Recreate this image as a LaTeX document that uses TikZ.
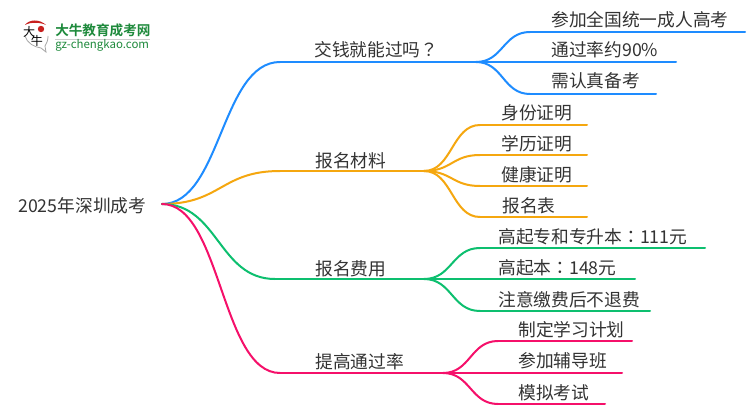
\documentclass[tikz,border=0pt]{standalone}
\usepackage{fontspec}
\setmainfont{Noto Sans CJK SC}
\newfontfamily\logofont{Noto Sans CJK SC Bold}
\newfontfamily\puncfont{Noto Sans CJK TC}
\definecolor{cblue}{HTML}{1E8CFF}
\definecolor{corange}{HTML}{F5A70F}
\definecolor{cgreen}{HTML}{0DBF6F}
\definecolor{cpink}{HTML}{F5106A}
\definecolor{ctext}{HTML}{333333}
\definecolor{logogreen}{HTML}{1E8A3C}
\definecolor{logored}{HTML}{C8201E}
\tikzset{
 x=0.75pt,y=-0.75pt,
 lab/.style={inner sep=0pt,text=ctext,font=\fontsize{13.3pt}{15pt}\selectfont,anchor=base west},
 wire/.style={line width=1.5pt,line cap=round},
}
\newcommand{\branch}[3]{\draw[wire,#1] (#2) .. controls ($(#2)!0.5!(#2-|#3)$) and ($(#3)!0.5!(#3-|#2)$) .. (#3);}
\usetikzlibrary{calc}
\begin{document}
\begin{tikzpicture}
\useasboundingbox (0,0) rectangle (750,410);
\fill[white] (0,0) rectangle (750,410);
% logo
\fill[logored] (25,25) .. controls (29,19) and (40,19) .. (46,25) .. controls (40,22) and (30,22) .. (25,25);
\fill[logored] (41,29) circle (3.2);
\draw[black!35,line width=0.6pt] (25,36) .. controls (27,43) and (34,47) .. (41,48) -- (46,52) -- (45,46) .. controls (47,43) and (48,40) .. (48,36);
\node[inner sep=0pt,font=\fontsize{9pt}{9pt}\selectfont,text=black] (logoda) at (29,32) {大};
\node[inner sep=0pt,font=\fontsize{9pt}{9pt}\selectfont,text=black] (logoniu) at (37,41) {牛};
\node[inner sep=0pt,anchor=west,text=logogreen,font=\logofont\fontsize{10.2pt}{12pt}\selectfont] (logot) at (55,30) {大牛教育成考网};
\draw[black!20,line width=0.6pt] (55,39.5) -- (150,39.5);
\node[inner sep=0pt,anchor=west,text=logogreen,font=\fontsize{8.6pt}{9pt}\selectfont] (logou) at (55,45) {gz-chengkao.com};
% anchors
\coordinate (r) at (162,204);
\coordinate (a) at (280,62);  \coordinate (ae) at (476,62);
\coordinate (b) at (280,171); \coordinate (be) at (424,171);
\coordinate (c) at (275,279); \coordinate (ce) at (424,279);
\coordinate (d) at (280,373); \coordinate (de) at (443,373);
\coordinate (a1) at (530,32); \coordinate (a1e) at (745,32);
\coordinate (a2) at (530,62); \coordinate (a2e) at (676,62);
\coordinate (a3) at (530,94); \coordinate (a3e) at (656,94);
\coordinate (b1) at (480,125); \coordinate (b1e) at (587,125);
\coordinate (b2) at (480,155); \coordinate (b2e) at (587,155);
\coordinate (b3) at (480,186); \coordinate (b3e) at (587,186);
\coordinate (b4) at (480,217); \coordinate (b4e) at (587,217);
\coordinate (c1) at (480,248); \coordinate (c1e) at (705,248);
\coordinate (c2) at (480,279); \coordinate (c2e) at (635,279);
\coordinate (c3) at (480,311); \coordinate (c3e) at (650,311);
\coordinate (d1) at (498,341); \coordinate (d1e) at (632,341);
\coordinate (d2) at (498,373); \coordinate (d2e) at (622,373);
\coordinate (d3) at (498,404); \coordinate (d3e) at (605,404);
% connectors
\branch{cblue}{r}{a} \draw[wire,cblue] (a) -- (ae);
\branch{cblue}{ae}{a1} \draw[wire,cblue] (a1) -- (a1e);
\draw[wire,cblue] (ae) -- (a2e);
\branch{cblue}{ae}{a3} \draw[wire,cblue] (a3) -- (a3e);
\branch{corange}{r}{b} \draw[wire,corange] (b) -- (be);
\foreach \k in {b1,b2,b3,b4}{\branch{corange}{be}{\k} \draw[wire,corange] (\k) -- (\k e);}
\branch{cgreen}{r}{c} \draw[wire,cgreen] (c) -- (ce);
\branch{cgreen}{ce}{c1} \draw[wire,cgreen] (c1) -- (c1e);
\draw[wire,cgreen] (ce) -- (c2e);
\branch{cgreen}{ce}{c3} \draw[wire,cgreen] (c3) -- (c3e);
\branch{cpink}{r}{d} \draw[wire,cpink] (d) -- (de);
\branch{cpink}{de}{d1} \draw[wire,cpink] (d1) -- (d1e);
\draw[wire,cpink] (de) -- (d2e);
\branch{cpink}{de}{d3} \draw[wire,cpink] (d3) -- (d3e);
% labels
\node[lab] (tr) at (18,212) {2025年深圳成考};
\node[lab] (ta) at (314,57) {交钱就能过吗{\puncfont ？}};
\node[lab] (tb) at (315,167) {报名材料};
\node[lab] (tc) at (315,275) {报名费用};
\node[lab] (td) at (315,368) {提高通过率};
\node[lab] (ta1) at (551,27) {参加全国统一成人高考};
\node[lab] (ta2) at (551,57) {通过率约90\%};
\node[lab] (ta3) at (551,88) {需认真备考};
\node[lab] (tb1) at (501,120) {身份证明};
\node[lab] (tb2) at (501,150) {学历证明};
\node[lab] (tb3) at (501,181) {健康证明};
\node[lab] (tb4) at (502,212) {报名表};
\node[lab] (tc1) at (498,243) {高起专和专升本{\puncfont ：}111元};
\node[lab] (tc2) at (498,274) {高起本{\puncfont ：}148元};
\node[lab] (tc3) at (498,306) {注意缴费后不退费};
\node[lab] (td1) at (518,336) {制定学习计划};
\node[lab] (td2) at (518,367) {参加辅导班};
\node[lab] (td3) at (518,399) {模拟考试};
\end{tikzpicture}
\end{document}
